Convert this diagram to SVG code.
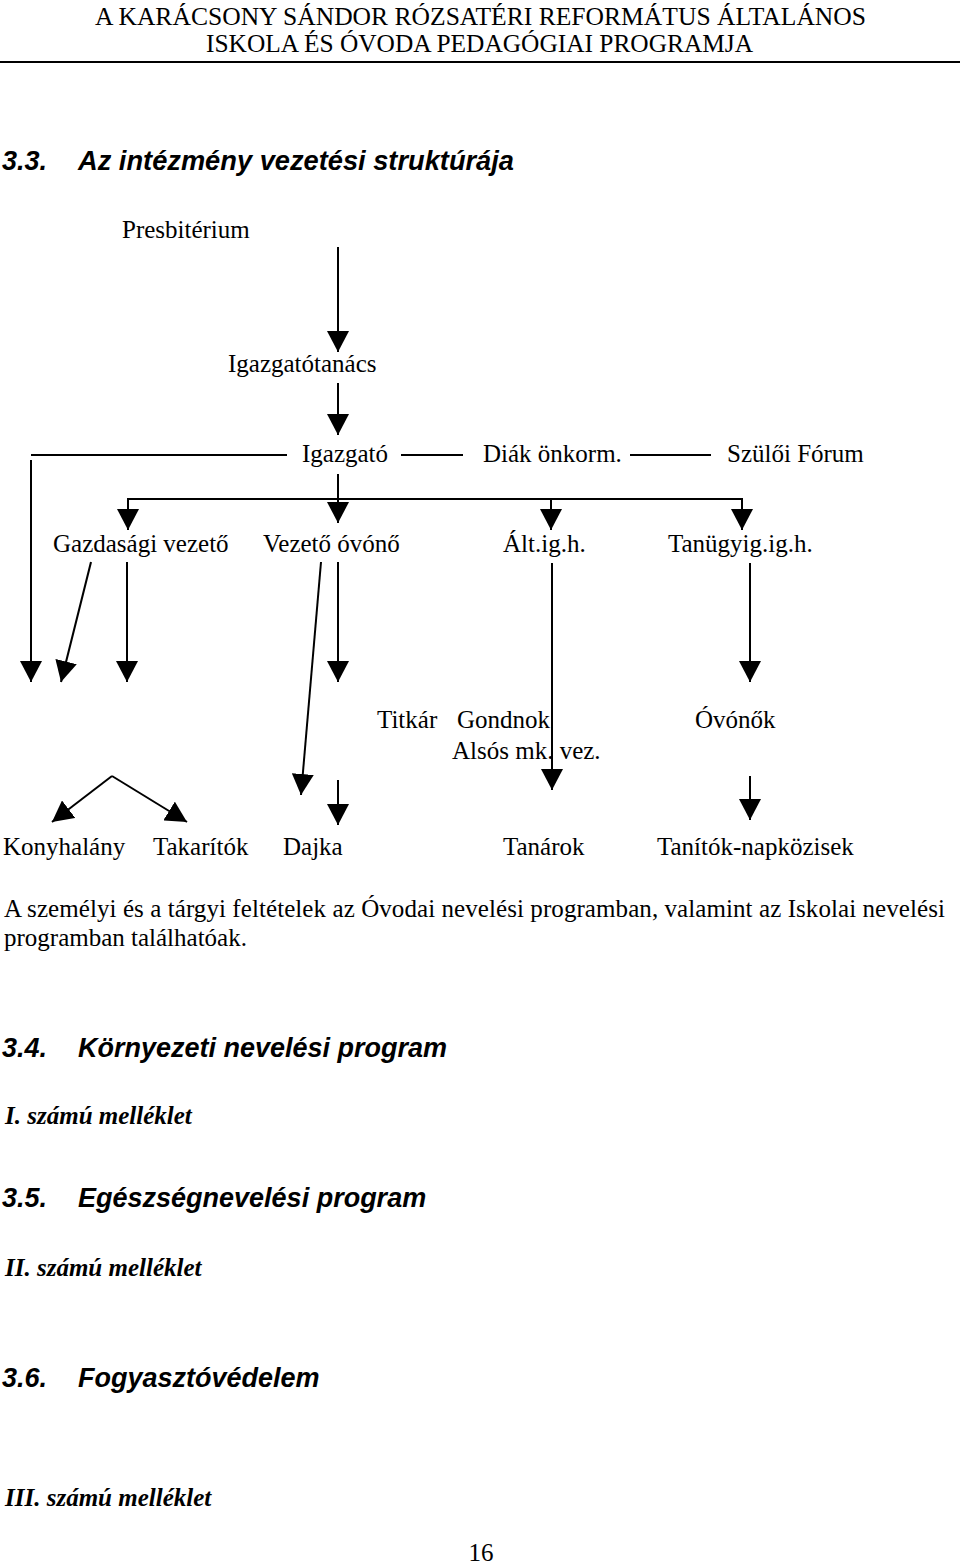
<svg xmlns="http://www.w3.org/2000/svg" width="960" height="1564" viewBox="0 0 960 1564">
<style>
.t{font-family:"Liberation Serif","Times New Roman",serif;font-size:25px;fill:#000}
.h{font-family:"Liberation Sans",Arial,sans-serif;font-size:27px;font-weight:bold;font-style:italic;fill:#000}
.m{font-family:"Liberation Serif","Times New Roman",serif;font-size:25px;font-weight:bold;font-style:italic;fill:#000}
.c line,.c polyline{stroke:#000;stroke-width:2;fill:none}
.a{marker-end:url(#ah)}
</style>
<defs>
<marker id="ah" viewBox="0 0 21 22" refX="21" refY="11" markerWidth="21" markerHeight="22" markerUnits="userSpaceOnUse" orient="auto">
<path d="M0,0 L21,11 L0,22 z" fill="#000"/>
</marker>
</defs>
<rect width="960" height="1564" fill="#fff"/>

<g id="header">
<text class="t" x="95" y="25" textLength="771" lengthAdjust="spacingAndGlyphs">A KARÁCSONY SÁNDOR RÓZSATÉRI REFORMÁTUS ÁLTALÁNOS</text>
<text class="t" x="206" y="52" textLength="547" lengthAdjust="spacingAndGlyphs">ISKOLA ÉS ÓVODA PEDAGÓGIAI PROGRAMJA</text>
<line x1="0" y1="62" x2="960" y2="62" stroke="#000" stroke-width="2"/>
</g>

<g id="heading-3-3"><text class="h" y="170"><tspan x="2">3.3.</tspan><tspan x="78" textLength="436" lengthAdjust="spacingAndGlyphs">Az intézmény vezetési struktúrája</tspan></text></g>

<g class="c" id="connectors">
<line class="a" x1="338" y1="247" x2="338" y2="352"/>
<line class="a" x1="338" y1="383" x2="338" y2="435"/>
<line x1="31" y1="455" x2="287" y2="455"/>
<line x1="401" y1="455" x2="463" y2="455"/>
<line x1="630" y1="455" x2="711" y2="455"/>
<line class="a" x1="31" y1="460" x2="31" y2="682"/>
<line class="a" x1="338" y1="474" x2="338" y2="523"/>
<line x1="127" y1="499" x2="743" y2="499"/>
<line class="a" x1="128" y1="498" x2="128" y2="530"/>
<line class="a" x1="551" y1="498" x2="551" y2="530"/>
<line class="a" x1="742" y1="498" x2="742" y2="530"/>
<line class="a" x1="91" y1="562" x2="61" y2="682"/>
<line class="a" x1="127" y1="562" x2="127" y2="682"/>
<line class="a" x1="321" y1="562" x2="301" y2="795"/>
<line class="a" x1="338" y1="562" x2="338" y2="682"/>
<line class="a" x1="552" y1="563" x2="552" y2="790"/>
<line class="a" x1="750" y1="563" x2="750" y2="682"/>
<line class="a" x1="112" y1="776" x2="52" y2="822"/>
<line class="a" x1="112" y1="776" x2="187" y2="822"/>
<line class="a" x1="338" y1="780" x2="338" y2="825"/>
<line class="a" x1="750" y1="776" x2="750" y2="820"/>
</g>

<g id="presbiterium"><text class="t" x="122" y="238">Presbitérium</text></g>
<g id="igazgatotanacs"><text class="t" x="228" y="372">Igazgatótanács</text></g>
<g id="igazgato"><text class="t" x="302" y="462">Igazgató</text></g>
<g id="diak-onkorm"><text class="t" x="483" y="462">Diák önkorm.</text></g>
<g id="szuloi-forum"><text class="t" x="727" y="462">Szülői Fórum</text></g>
<g id="gazdasagi-vezeto"><text class="t" x="53" y="552">Gazdasági vezető</text></g>
<g id="vezeto-ovono"><text class="t" x="263" y="552">Vezető óvónő</text></g>
<g id="alt-igh"><text class="t" x="503" y="552">Ált.ig.h.</text></g>
<g id="tanugy-igh"><text class="t" x="668" y="552">Tanügyig.ig.h.</text></g>
<g id="titkar"><text class="t" x="377" y="728">Titkár</text></g>
<g id="gondnok"><text class="t" x="457" y="728">Gondnok</text></g>
<g id="ovonok"><text class="t" x="695" y="728">Óvónők</text></g>
<g id="alsos-mk-vez"><text class="t" x="452" y="759">Alsós mk. vez.</text></g>
<g id="konyhalany"><text class="t" x="3" y="855">Konyhalány</text></g>
<g id="takaritok"><text class="t" x="153" y="855">Takarítók</text></g>
<g id="dajka"><text class="t" x="283" y="855">Dajka</text></g>
<g id="tanarok"><text class="t" x="503" y="855">Tanárok</text></g>
<g id="tanitok-napkozisek"><text class="t" x="657" y="855">Tanítók-napközisek</text></g>

<g id="paragraph">
<text class="t" x="4" y="917" textLength="941" lengthAdjust="spacing">A személyi és a tárgyi feltételek az Óvodai nevelési programban, valamint az Iskolai nevelési</text>
<text class="t" x="4" y="946">programban találhatóak.</text>
</g>

<g id="heading-3-4"><text class="h" y="1057"><tspan x="2">3.4.</tspan><tspan x="78">Környezeti nevelési program</tspan></text></g>
<g id="annex-1"><text class="m" x="5" y="1124">I. számú melléklet</text></g>
<g id="heading-3-5"><text class="h" y="1207"><tspan x="2">3.5.</tspan><tspan x="78">Egészségnevelési program</tspan></text></g>
<g id="annex-2"><text class="m" x="5" y="1276">II. számú melléklet</text></g>
<g id="heading-3-6"><text class="h" y="1387"><tspan x="2">3.6.</tspan><tspan x="78">Fogyasztóvédelem</tspan></text></g>
<g id="annex-3"><text class="m" x="5" y="1506">III. számú melléklet</text></g>
<g id="page-number"><text class="t" x="481" y="1561" text-anchor="middle">16</text></g>
</svg>
